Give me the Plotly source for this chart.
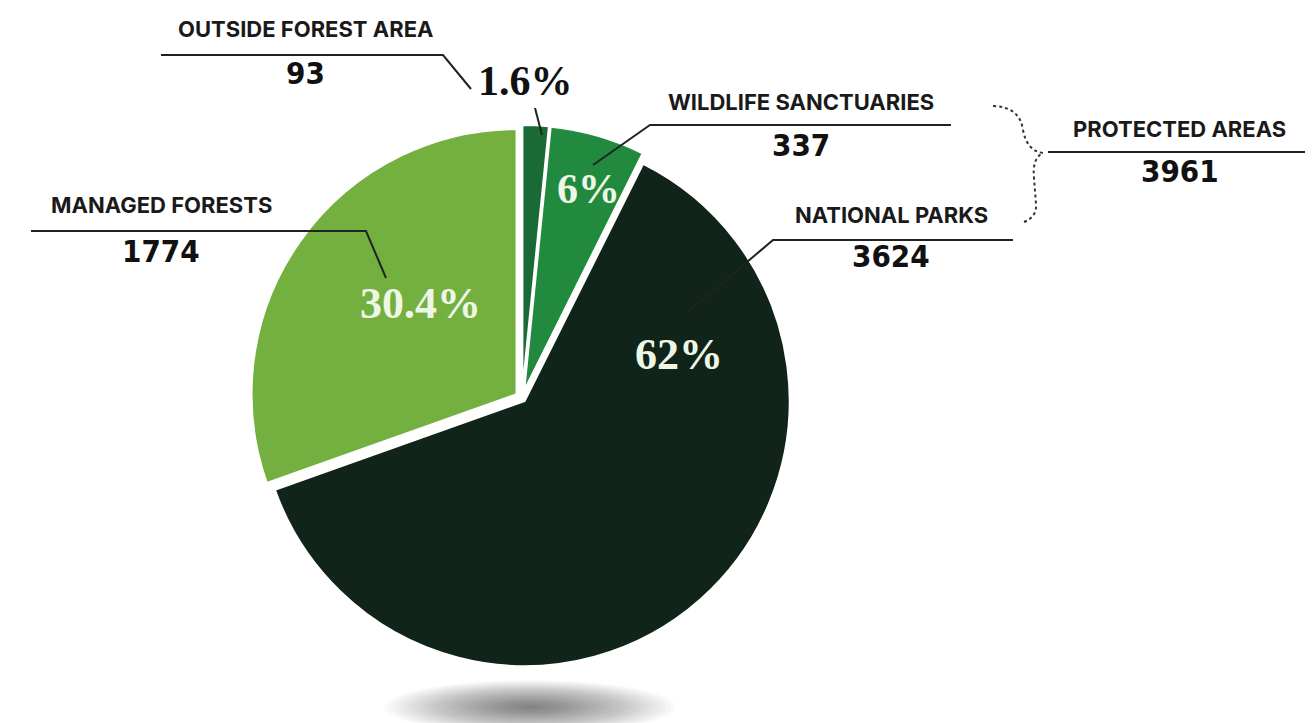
import plotly.graph_objects as go

# ---- data ----
categories = ["OUTSIDE FOREST AREA", "WILDLIFE SANCTUARIES", "NATIONAL PARKS", "MANAGED FORESTS"]
values = [93, 337, 3624, 1774]
pct_labels = ["1.6%", "6%", "62%", "30.4%"]
group_name = "PROTECTED AREAS"
group_members = ["WILDLIFE SANCTUARIES", "NATIONAL PARKS"]

# ---- style ----
W, H = 1313, 723
colors = ["#1a6a35", "#228a3f", "#10241a", "#74b040"]
pulls = [0.03, 0.03, 0.015, 0.025]
pct_colors = ["#111111", "#eef7e6", "#eef7e6", "#eef7e6"]
pct_sizes = [42, 42, 44, 44]

def px(x):
    return x / W

def py(y):
    return 1 - y / H

# pie centre and box (pixels)
cx, cy, half = 514, 390, 273

fig = go.Figure()
fig.add_trace(go.Pie(
    labels=categories,
    values=values,
    sort=False,
    direction="clockwise",
    rotation=0,
    pull=pulls,
    marker=dict(colors=colors, line=dict(color="white", width=2)),
    textinfo="none",
    hoverinfo="label+value+percent",
    domain=dict(x=[px(cx - half), px(cx + half)], y=[py(cy + half), py(cy - half)]),
    showlegend=False,
))

shapes = []
# soft shadow under the pie
n_layers = 30
scx, scy, rx, ry = 522, 699, 146, 27
for i in range(n_layers):
    f = 1 - i / n_layers
    shapes.append(dict(type="circle", xref="paper", yref="paper",
                       x0=px(scx - rx * f), x1=px(scx + rx * f),
                       y0=py(scy + ry * f), y1=py(scy - ry * f),
                       fillcolor="rgba(0,0,0,0.02)", line=dict(width=0), layer="below"))

def polyline(pts, color="#222222", width=2, dash="solid"):
    path = "M " + " L ".join(f"{px(x)},{py(y)}" for x, y in pts)
    shapes.append(dict(type="path", xref="paper", yref="paper", path=path,
                       line=dict(color=color, width=width, dash=dash)))

# leader lines
polyline([(153, 47), (435, 47), (463, 81)])
polyline([(527, 100), (534, 127)])
polyline([(943, 117), (642, 117), (585, 157)])
polyline([(1005, 232), (765, 232), (680, 304)])
polyline([(23, 223), (358, 223), (378, 270)])
polyline([(1040, 144), (1313, 144)])

# dotted curly brace
brace = [("M", (985, 98)), ("Q", (1012, 99), (1015, 122)), ("Q", (1019, 143), (1035, 145)),
         ("Q", (1024, 150), (1026, 170)), ("L", (1028, 196)), ("Q", (1029, 209), (1016, 214))]
p = ""
for cmd in brace:
    p += cmd[0] + " " + " ".join(f"{px(x)},{py(y)}" for x, y in cmd[1:]) + " "
shapes.append(dict(type="path", xref="paper", yref="paper", path=p.strip(),
                   line=dict(color="#333333", width=2, dash="dot")))

annotations = []
name_font = dict(family="Inter, Open Sans, sans-serif", size=22, color="#1a1a1a", weight=700)
num_font = dict(family="Liberation Sans Narrow, DejaVu Sans Condensed, sans-serif", size=31,
                color="#111111", weight=700)
pct_font_family = "Liberation Serif, DejaVu Serif, serif"

def label(text, x, y, font):
    annotations.append(dict(text=text, x=px(x), y=py(y), xref="paper", yref="paper",
                            showarrow=False, xanchor="center", yanchor="middle", font=font))

label_pos = {
    "OUTSIDE FOREST AREA": ((297, 21), (297, 65)),
    "WILDLIFE SANCTUARIES": ((793, 94), (793, 137)),
    "NATIONAL PARKS": ((883, 207), (883, 248)),
    "MANAGED FORESTS": ((153, 197), (153, 243)),
}
for cat, val in zip(categories, values):
    (nx, ny), (vx, vy) = label_pos[cat]
    label(cat, nx, ny, name_font)
    label(str(val), vx, vy, num_font)

group_total = sum(v for c, v in zip(categories, values) if c in group_members)
label(group_name, 1171, 121, name_font)
label(str(group_total), 1172, 163, num_font)

pct_pos = [(517, 73), (580, 181), (671, 346), (412, 295)]
for t, (x, y), col, sz in zip(pct_labels, pct_pos, pct_colors, pct_sizes):
    label(t, x, y, dict(family=pct_font_family, size=sz, color=col, weight=700))

fig.update_layout(
    width=W, height=H,
    margin=dict(l=0, r=0, t=0, b=0),
    paper_bgcolor="white", plot_bgcolor="white",
    shapes=shapes, annotations=annotations,
    showlegend=False,
)

fig.write_html("out.html")
